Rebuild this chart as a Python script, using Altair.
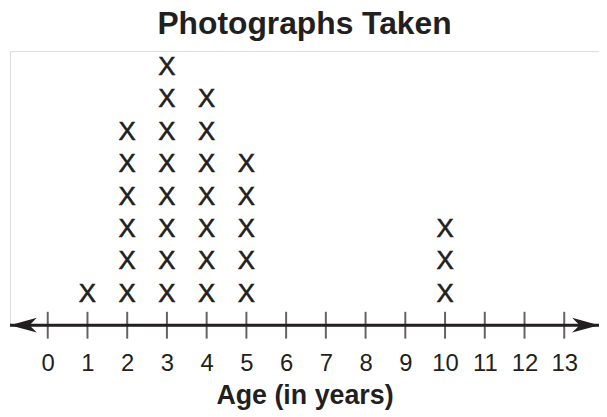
import altair as alt
import pandas as pd

# Data
ages = [1, 2, 3, 4, 5, 10]
counts = [1, 6, 8, 7, 5, 3]
tick_values = list(range(0, 14))

TITLE = "Photographs Taken"
X_TITLE = "Age (in years)"
INK = "#231f20"
FONT = "Liberation Sans"

# Scale domains (number-line extent and count range)
x_min, x_max = -0.95, 13.875
y_max = 8.466

rows = []
for a, c in zip(ages, counts):
    for k in range(1, c + 1):
        rows.append({"age": a, "n": k, "label": "X"})
marks_df = pd.DataFrame(rows)
ticks_df = pd.DataFrame({"age": tick_values, "n": [0] * len(tick_values)})
line_df = pd.DataFrame({"x1": [x_min], "x2": [x_max], "n": [0]})
arrow_df = pd.DataFrame({"age": [x_min, x_max], "n": [0, 0], "dir": ["left", "right"]})

xscale = alt.Scale(domain=[x_min, x_max], nice=False, zero=False)
yscale = alt.Scale(domain=[0, y_max], nice=False, zero=True)

x_axis = alt.Axis(
    values=tick_values, title=X_TITLE, domain=False, ticks=False, tickSize=0,
    grid=False, labelFont=FONT, labelFontSize=24, labelColor=INK,
    labelPadding=27, labelFlush=False, labelOverlap=False,
    titleFont=FONT, titleFontSize=27, titleFontWeight="bold", titleColor=INK,
    titlePadding=7,
)

base_y = alt.Y("n:Q", scale=yscale, axis=None)

xs = (
    alt.Chart(marks_df)
    .mark_text(font=FONT, fontSize=26, color=INK, baseline="middle", dy=1,
               stroke=INK, strokeWidth=0.6)
    .encode(x=alt.X("age:Q", scale=xscale, axis=x_axis), y=base_y, text="label:N")
)

line = (
    alt.Chart(line_df)
    .mark_rule(color=INK, strokeWidth=3)
    .encode(x=alt.X("x1:Q", scale=xscale), x2="x2:Q", y=base_y)
)

ticks = (
    alt.Chart(ticks_df)
    .mark_tick(color=INK, orient="vertical", size=27, thickness=2)
    .encode(x=alt.X("age:Q", scale=xscale), y=base_y)
)

left_arrow = (
    alt.Chart(arrow_df[arrow_df["dir"] == "left"])
    .mark_point(shape="M 0 0 L 2 -0.55 L 1.45 0 L 2 0.55 Z", size=729,
                filled=True, color=INK, opacity=1)
    .encode(x=alt.X("age:Q", scale=xscale), y=base_y)
)
right_arrow = (
    alt.Chart(arrow_df[arrow_df["dir"] == "right"])
    .mark_point(shape="M 0 0 L -2 -0.55 L -1.45 0 L -2 0.55 Z", size=729,
                filled=True, color=INK, opacity=1)
    .encode(x=alt.X("age:Q", scale=xscale), y=base_y)
)

chart = (
    alt.layer(xs, line, ticks, left_arrow, right_arrow)
    .properties(
        width=593, height=276,
        autosize=alt.AutoSizeParams(type="none"),
        padding={"left": 2, "top": 42, "right": 0, "bottom": 88},
        title=alt.TitleParams(TITLE, font=FONT, fontSize=32, fontWeight="bold",
                              color=INK, anchor="middle", offset=10),
    )
    .configure_view(stroke=None)
    .configure(background="white")
)

chart.save("out.html", embed_options={"renderer": "svg", "actions": False})
